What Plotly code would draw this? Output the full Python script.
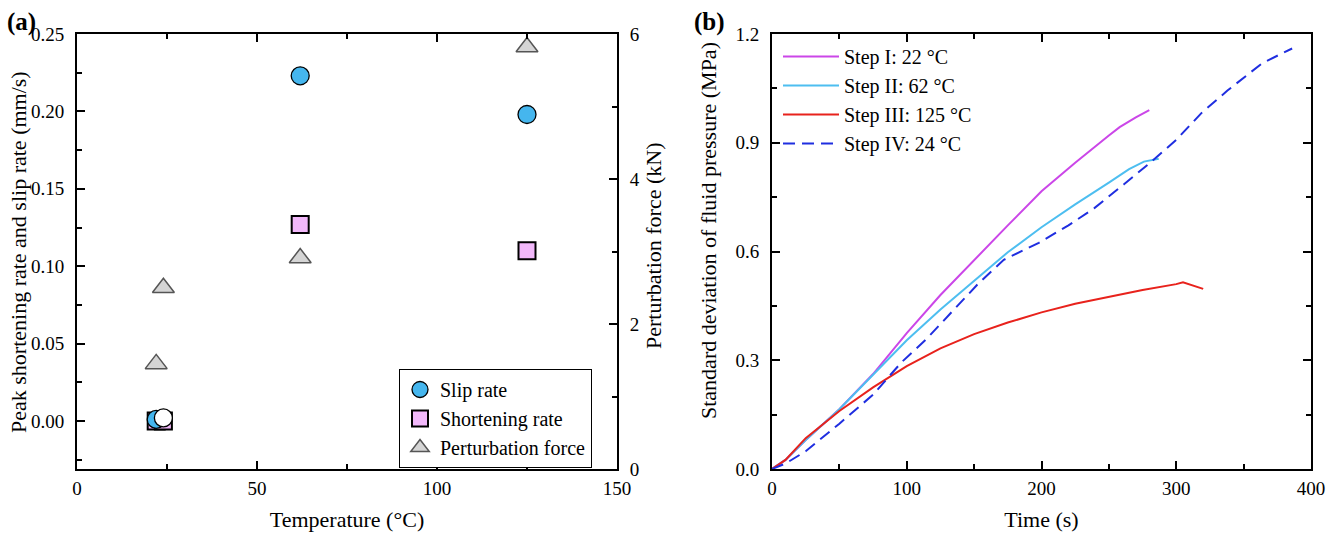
import plotly.graph_objects as go

# ---------------- data: panel (a) ----------------
temp_slip = [22, 24, 62, 125]
slip_rate = [0.001, 0.002, 0.223, 0.198]
temp_short = [22, 24, 62, 125]
short_rate = [0.0, 0.0, 0.127, 0.110]
temp_force = [22, 24, 62, 125]
pert_force = [1.45, 2.50, 2.91, 5.82]

# ---------------- data: panel (b) ----------------
t1 = [0, 10, 25, 50, 75, 100, 125, 150, 175, 200, 225, 250, 258, 270, 280]
s1 = [0, 0.025, 0.08, 0.165, 0.262, 0.375, 0.48, 0.577, 0.672, 0.766, 0.845, 0.92, 0.943, 0.97, 0.99]
t2 = [0, 10, 25, 50, 75, 100, 125, 150, 175, 200, 225, 250, 265, 276, 287]
s2 = [0, 0.025, 0.08, 0.165, 0.26, 0.355, 0.44, 0.52, 0.598, 0.667, 0.73, 0.79, 0.827, 0.848, 0.856]
t3 = [0, 10, 25, 50, 75, 100, 125, 150, 175, 200, 225, 250, 275, 300, 305, 320]
s3 = [0, 0.025, 0.085, 0.16, 0.225, 0.284, 0.333, 0.372, 0.404, 0.432, 0.456, 0.476, 0.494, 0.51, 0.515, 0.497]
t4 = [0, 10, 25, 50, 75, 85, 96, 115, 134, 153, 172, 198, 220, 239, 261, 281, 300, 319, 338, 364, 386]
s4 = [0, 0.015, 0.049, 0.125, 0.205, 0.247, 0.294, 0.36, 0.436, 0.511, 0.577, 0.624, 0.672, 0.719, 0.785, 0.846, 0.908, 0.983, 1.044, 1.12, 1.16]

names_b = ["Step I: 22 °C", "Step II: 62 °C", "Step III: 125 °C", "Step IV: 24 °C"]

FONT = "Liberation Serif, Times New Roman, DejaVu Serif, serif"
W, H = 1334, 536

def px_x(p):
    return p / W

def px_y(p):
    return 1 - p / H

fig = go.Figure()

# squares first (below circles)
fig.add_trace(go.Scatter(
    x=temp_short, y=short_rate, mode="markers", name="Shortening rate",
    marker=dict(symbol="square", size=17, color="#F2B8FA", line=dict(color="black", width=2)),
    xaxis="x", yaxis="y", legend="legend", legendrank=2))
fig.add_trace(go.Scatter(
    x=temp_slip, y=slip_rate, mode="markers", name="Slip rate",
    marker=dict(symbol="circle", size=18, color=["#45B6EE", "white", "#45B6EE", "#45B6EE"],
                line=dict(color="black", width=1.3)),
    xaxis="x", yaxis="y", legend="legend", legendrank=1))
fig.add_trace(go.Scatter(
    x=temp_force, y=pert_force, mode="markers", name="Perturbation force",
    marker=dict(symbol="triangle-up", size=19, color="#D5D5D5", line=dict(color="#555555", width=1.5)),
    xaxis="x", yaxis="y2", legend="legend", legendrank=3))

colors_b = ["#CB46E8", "#4DBEF0", "#E8221C", "#1F2EE0"]
for i, (tt, ss) in enumerate([(t1, s1), (t2, s2), (t3, s3), (t4, s4)]):
    fig.add_trace(go.Scatter(
        x=tt, y=ss, mode="lines", name=names_b[i],
        line=dict(color=colors_b[i], width=2, dash="12px,7px" if i == 3 else "solid"),
        xaxis="x2", yaxis="y3", legend="legend2"))

tickfont = dict(family=FONT, size=19, color="black")
xtitlefont = dict(family=FONT, size=22, color="black")
ytitlefont = dict(family=FONT, size=22, color="black")
axcommon = dict(showline=True, linecolor="black", linewidth=2, ticks="inside", ticklen=8,
                tickwidth=1.5, tickcolor="black", showgrid=False, zeroline=False,
                tickfont=tickfont, automargin=False)

fig.update_layout(
    width=W, height=H, margin=dict(l=0, r=0, t=0, b=0, autoexpand=False),
    paper_bgcolor="white", plot_bgcolor="white",
    font=dict(family=FONT, color="black"),
    xaxis=dict(domain=[px_x(77), px_x(617)], range=[0, 150], dtick=50, mirror="ticks",
               minor=dict(dtick=25, ticks="inside", ticklen=5, tickcolor="black"),
               ticklabelstandoff=1,
               title=dict(text="Temperature (°C)", font=xtitlefont, standoff=14),
               anchor="y", **axcommon),
    yaxis=dict(domain=[px_y(469), px_y(34)], range=[-0.031, 0.25], dtick=0.05, tickformat=".2f",
               minor=dict(dtick=0.025, ticks="inside", ticklen=5, tickcolor="black"),
               ticklabelstandoff=7, anchor="x", **axcommon),
    yaxis2=dict(domain=[px_y(469), px_y(34)], range=[0, 6], dtick=2, overlaying="y", side="right",
                minor=dict(dtick=1, ticks="inside", ticklen=5, tickcolor="black"),
                ticklabelstandoff=7, anchor="x", **axcommon),
    xaxis2=dict(domain=[px_x(772), px_x(1311)], range=[0, 400], dtick=100, mirror="ticks",
                minor=dict(dtick=50, ticks="inside", ticklen=5, tickcolor="black"),
                ticklabelstandoff=1,
                title=dict(text="Time (s)", font=xtitlefont, standoff=14),
                anchor="y3", **axcommon),
    yaxis3=dict(domain=[px_y(469), px_y(34)], range=[0, 1.2], dtick=0.3, tickformat=".1f", mirror="ticks",
                minor=dict(dtick=0.15, ticks="inside", ticklen=5, tickcolor="black"),
                ticklabelstandoff=7, anchor="x2", **axcommon),
    legend=dict(x=px_x(399), y=px_y(369), xanchor="left", yanchor="top",
                bordercolor="black", borderwidth=1, bgcolor="white",
                font=dict(family=FONT, size=20, color="black"), traceorder="normal",
                itemsizing="trace"),
    legend2=dict(x=px_x(778), y=px_y(37), xanchor="left", yanchor="top",
                 bgcolor="rgba(0,0,0,0)", borderwidth=0,
                 font=dict(family=FONT, size=20, color="black"),
                 traceorder="normal", itemwidth=56),
    showlegend=True,
)

# y-axis titles (rotated text)
ytitles = [("Peak shortening rate and slip rate (mm/s)", 18, 252),
           ("Perturbation force (kN)", 654, 246),
           ("Standard deviation of fluid pressure (MPa)", 708, 231)]
for txt, xp, yp in ytitles:
    fig.add_annotation(text=txt, x=px_x(xp), y=px_y(yp), xref="paper", yref="paper",
                       xanchor="center", yanchor="middle", textangle=-90, showarrow=False,
                       font=ytitlefont)

fig.add_annotation(text="<b>(a)</b>", x=px_x(5), y=px_y(6), xref="paper", yref="paper",
                   xanchor="left", yanchor="top", showarrow=False,
                   font=dict(family=FONT, size=25, color="black"))
fig.add_annotation(text="<b>(b)</b>", x=px_x(692), y=px_y(6), xref="paper", yref="paper",
                   xanchor="left", yanchor="top", showarrow=False,
                   font=dict(family=FONT, size=25, color="black"))

fig.write_html("out.html", post_script="document.body.style.margin='0px';",
               config={"displayModeBar": False})
